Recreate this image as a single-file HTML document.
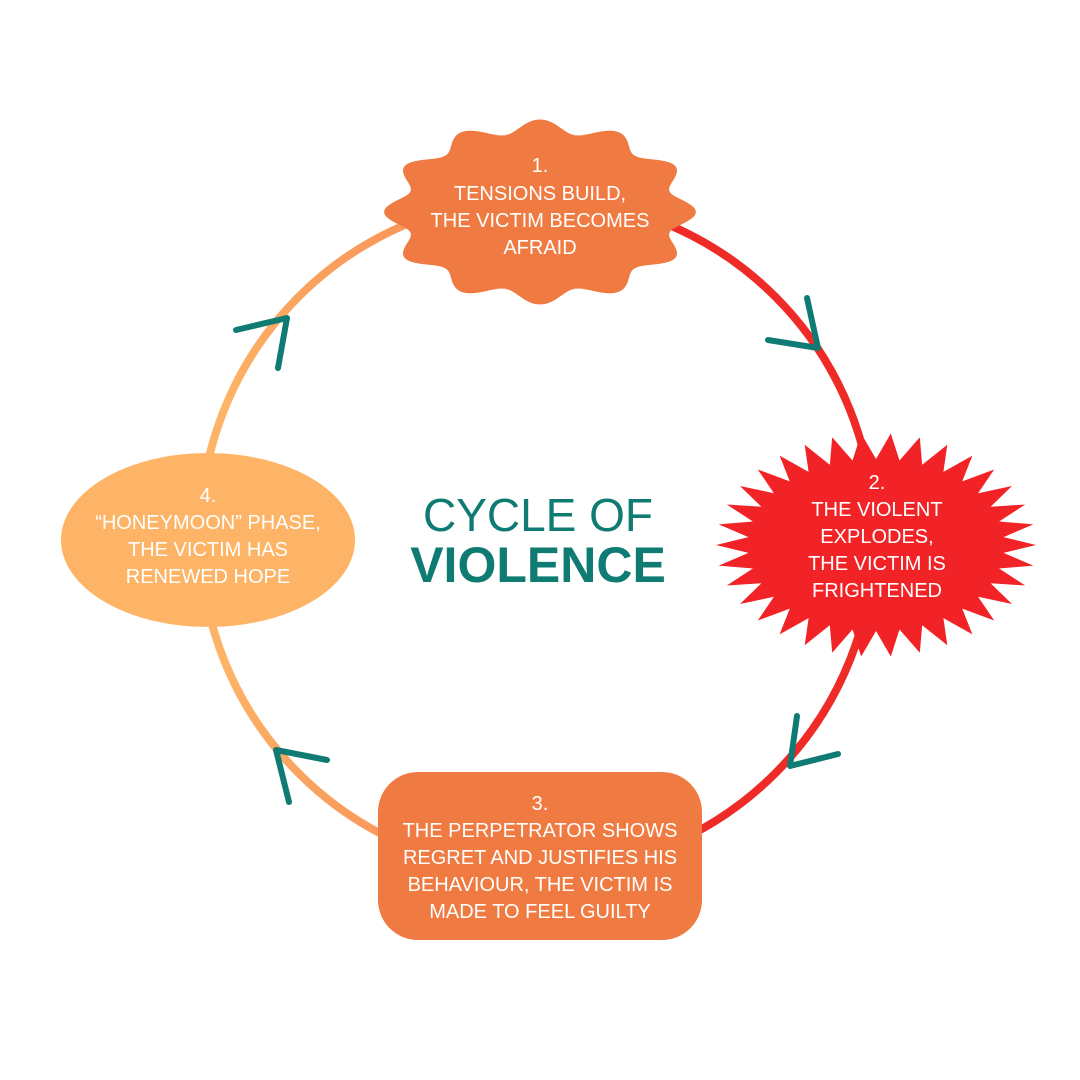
<!DOCTYPE html>
<html><head><meta charset="utf-8"><style>
html,body{margin:0;padding:0;background:#fff}
svg{display:block}
text{font-family:"Liberation Sans",sans-serif;fill:#fff}
</style></head><body>
<svg id="s" width="1080" height="1080" viewBox="0 0 1080 1080">
<defs>
<linearGradient id="gl" x1="0" y1="0" x2="0" y2="1">
<stop offset="0" stop-color="#f8945a"/><stop offset="0.3" stop-color="#fdb466"/><stop offset="0.7" stop-color="#fdb466"/><stop offset="1" stop-color="#f8945a"/>
</linearGradient>
</defs>
<path d="M 537 198 A 337 337 0 0 0 537 872" fill="none" stroke="url(#gl)" stroke-width="8"/>
<path d="M 537 198 A 337 337 0 0 1 537 872" fill="none" stroke="#ef2b28" stroke-width="8"/>
<path id="blob" fill="#f07b42"/>
<path id="star" fill="#f22326"/>
<ellipse cx="208" cy="540" rx="147" ry="87" fill="#fdb466"/>
<rect x="378" y="772" width="324" height="168" rx="40" fill="#f07b42"/>
<g stroke="#0f7b72" stroke-width="6" stroke-linecap="round" stroke-linejoin="round" fill="none">
<polyline points="768,340 818,348 807,298"/>
<polyline points="797,716 790,766 838,754"/>
<polyline points="327,760 276,750 289,802"/>
<polyline points="236,330 287,318 278,368"/>
</g>
<g font-size="20" text-anchor="middle">
<text x="540" y="172">1.</text>
<text x="540" y="200">TENSIONS BUILD,</text>
<text x="540" y="227">THE VICTIM BECOMES</text>
<text x="540" y="254">AFRAID</text>
<text x="877" y="489">2.</text>
<text x="877" y="516">THE VIOLENT</text>
<text x="877" y="543">EXPLODES,</text>
<text x="877" y="570">THE VICTIM IS</text>
<text x="877" y="597">FRIGHTENED</text>
<text x="540" y="810">3.</text>
<text x="540" y="837">THE PERPETRATOR SHOWS</text>
<text x="540" y="864">REGRET AND JUSTIFIES HIS</text>
<text x="540" y="891">BEHAVIOUR, THE VICTIM IS</text>
<text x="540" y="918">MADE TO FEEL GUILTY</text>
<text x="208" y="502">4.</text>
<text x="208" y="529">“HONEYMOON” PHASE,</text>
<text x="208" y="556">THE VICTIM HAS</text>
<text x="208" y="583">RENEWED HOPE</text>
</g>
<text x="538" y="531" font-size="46" text-anchor="middle" style="fill:#0f7b72">CYCLE OF</text>
<text x="538" y="582" font-size="50" font-weight="bold" text-anchor="middle" style="fill:#0f7b72">VIOLENCE</text>
</svg>
<script>
(function(){
 var d="",cx=540,cy=212,rx=145,ry=86,n=12,N=480;
 for(var i=0;i<=N;i++){var t=i/N*2*Math.PI;var k=1+0.075*Math.cos(n*t);
  var x=cx+rx*k*Math.cos(t),y=cy+ry*k*Math.sin(t);
  d+=(i?"L":"M")+x.toFixed(1)+" "+y.toFixed(1);}
 document.getElementById("blob").setAttribute("d",d+"Z");
 var s="",sx=876,sy=545,m=34;
 for(var j=0;j<2*m;j++){var a=j/(2*m)*2*Math.PI;var out=j%2==0;
  var R1=out?160:128,R2=out?112:86;
  s+=(j?"L":"M")+(sx+R1*Math.cos(a)).toFixed(1)+" "+(sy+R2*Math.sin(a)).toFixed(1);}
 document.getElementById("star").setAttribute("d",s+"Z");
})();
</script>
</body></html>
